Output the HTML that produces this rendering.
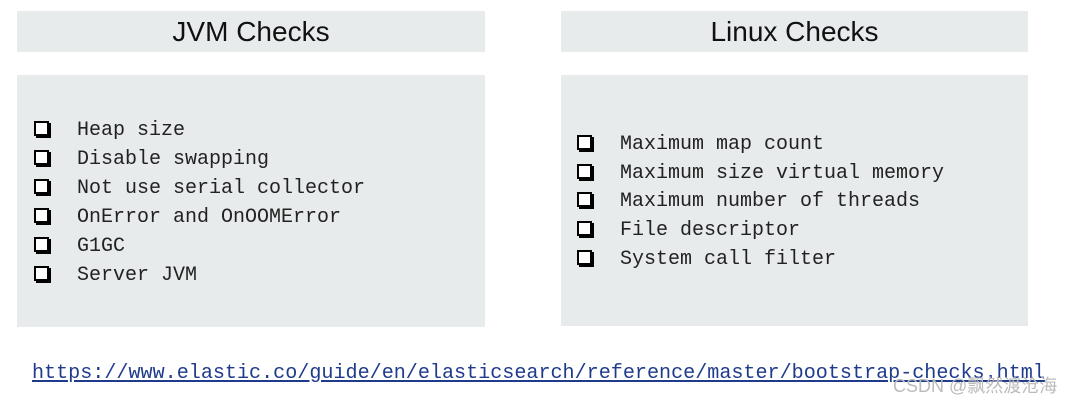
<!DOCTYPE html>
<html><head><meta charset="utf-8"><style>
body{margin:0;width:1081px;height:404px;background:#fff;position:relative;overflow:hidden;font-family:"Liberation Sans",sans-serif}
.b{position:absolute;background:#e8ebec}
.h{font-size:28px;text-align:center;line-height:41px;color:#111}
.it{position:absolute;font-family:"Liberation Mono",monospace;font-size:20px;line-height:20px;color:#222;white-space:pre}
.cb{position:absolute;width:11px;height:11px;border:2px solid #000;box-shadow:2px 2px 0 0 #000;background:#fff}
.url{position:absolute;left:32px;top:362px;font-family:"Liberation Mono",monospace;font-size:20.1px;color:#1f3b8c;text-decoration:underline;white-space:pre}
.wm{position:absolute;left:893px;top:372px;font-size:18px;color:#bbb;font-family:"Liberation Sans","Noto Sans CJK SC",sans-serif}
</style></head><body>
<div class="b h" style="left:17px;top:11px;width:468px;height:41px">JVM Checks</div>
<div class="b h" style="left:561px;top:11px;width:467px;height:41px">Linux Checks</div>
<div class="b" style="left:17px;top:75px;width:468px;height:252px"></div>
<div class="b" style="left:561px;top:75px;width:467px;height:251px"></div>

<div class="cb" style="left:34px;top:121px"></div><div class="it" style="left:77px;top:121px">Heap size</div>
<div class="cb" style="left:34px;top:150px"></div><div class="it" style="left:77px;top:150px">Disable swapping</div>
<div class="cb" style="left:34px;top:179px"></div><div class="it" style="left:77px;top:179px">Not use serial collector</div>
<div class="cb" style="left:34px;top:208px"></div><div class="it" style="left:77px;top:208px">OnError and OnOOMError</div>
<div class="cb" style="left:34px;top:237px"></div><div class="it" style="left:77px;top:237px">G1GC</div>
<div class="cb" style="left:34px;top:266px"></div><div class="it" style="left:77px;top:266px">Server JVM</div>

<div class="cb" style="left:577px;top:135px"></div><div class="it" style="left:620px;top:135px">Maximum map count</div>
<div class="cb" style="left:577px;top:164px"></div><div class="it" style="left:620px;top:164px">Maximum size virtual memory</div>
<div class="cb" style="left:577px;top:192px"></div><div class="it" style="left:620px;top:192px">Maximum number of threads</div>
<div class="cb" style="left:577px;top:221px"></div><div class="it" style="left:620px;top:221px">File descriptor</div>
<div class="cb" style="left:577px;top:250px"></div><div class="it" style="left:620px;top:250px">System call filter</div>

<div class="url">https://www.elastic.co/guide/en/elasticsearch/reference/master/bootstrap-checks.html</div>
<div class="wm">CSDN @飘然渡沧海</div>
</body></html>
